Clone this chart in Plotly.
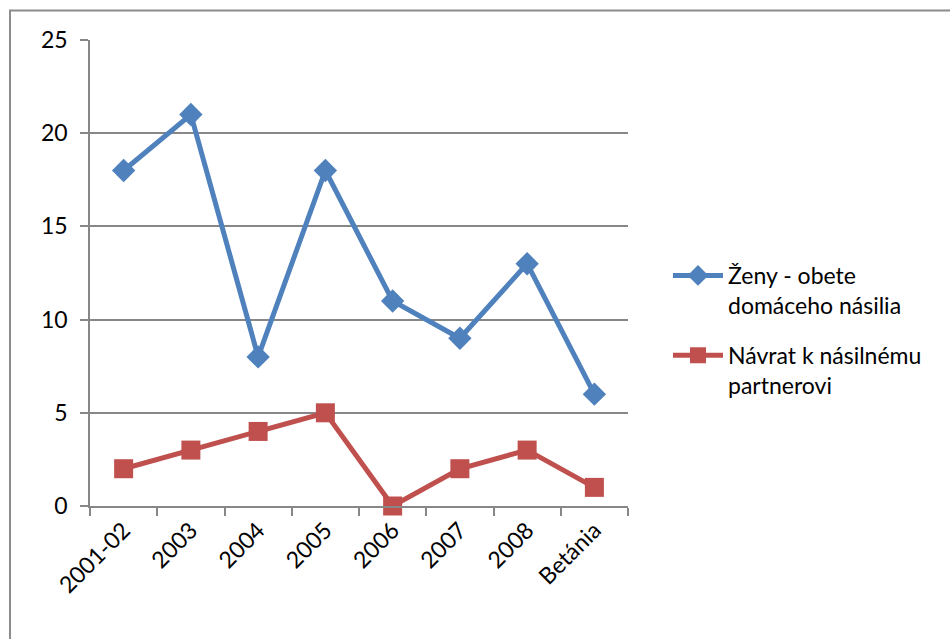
import plotly.graph_objects as go

categories = ["2001-02", "2003", "2004", "2005", "2006", "2007", "2008", "Betánia"]
zeny_obete = [18, 21, 8, 18, 11, 9, 13, 6]
navrat = [2, 3, 4, 5, 0, 2, 3, 1]
y_ticks = [0, 5, 10, 15, 20, 25]

FONT = "Lato"
GRID = "#878787"

# plot-area geometry in pixels
W, H = 950, 639
L, R, T, B = 90, 322, 40, 133
PW, PH = W - L - R, H - T - B


def px_to_paper_x(px):
    return (px - L) / PW


def px_to_paper_y(py):
    return (H - B - py) / PH


fig = go.Figure()
fig.add_trace(go.Scatter(
    x=categories, y=zeny_obete, mode="lines+markers",
    name="Ženy - obete<br>domáceho násilia", legendgroup="zeny",
    line=dict(color="#4F81BD", width=5),
    marker=dict(symbol="diamond", size=18, color="#4F81BD"),
    cliponaxis=False,
))
fig.add_trace(go.Scatter(
    x=categories, y=navrat, mode="lines+markers",
    name="Návrat k násilnému<br>partnerovi", legendgroup="navrat",
    line=dict(color="#C0504D", width=5),
    marker=dict(symbol="square", size=19, color="#C0504D"),
    cliponaxis=False,
))

# outer chart frame
fig.add_shape(type="rect", xref="paper", yref="paper",
              x0=px_to_paper_x(10), x1=px_to_paper_x(W + 20),
              y0=px_to_paper_y(H + 20), y1=px_to_paper_y(10.5),
              line=dict(color="#8C8C8C", width=2), layer="below")

fig.update_layout(
    width=W, height=H,
    margin=dict(l=L, r=R, t=T, b=B),
    paper_bgcolor="white", plot_bgcolor="white",
    font=dict(family=FONT, size=23, color="black"),
    showlegend=True,
    legend=dict(
        x=px_to_paper_x(668), y=px_to_paper_y(254),
        xanchor="left", yanchor="top", valign="top",
        font=dict(family=FONT, size=23, color="black"),
        itemwidth=50, tracegroupgap=17,
        bgcolor="rgba(0,0,0,0)",
    ),
    xaxis=dict(
        type="category", categoryorder="array", categoryarray=categories,
        tickangle=-45, tickson="boundaries",
        ticks="outside", ticklen=8, tickcolor=GRID, tickwidth=1.5,
        showline=True, linecolor=GRID, linewidth=1.5,
        showgrid=False, range=[-0.5, len(categories) - 0.5],
        tickfont=dict(family=FONT, size=23),
    ),
    yaxis=dict(
        range=[0, 25], tickvals=y_ticks,
        ticks="outside", ticklen=8, tickcolor=GRID, tickwidth=1.5,
        showline=True, linecolor=GRID, linewidth=1.5,
        showgrid=True, gridcolor=GRID, gridwidth=1.5,
        zeroline=False, ticklabelstandoff=8,
        tickfont=dict(family=FONT, size=23),
    ),
)

fig.write_html("out.html")
